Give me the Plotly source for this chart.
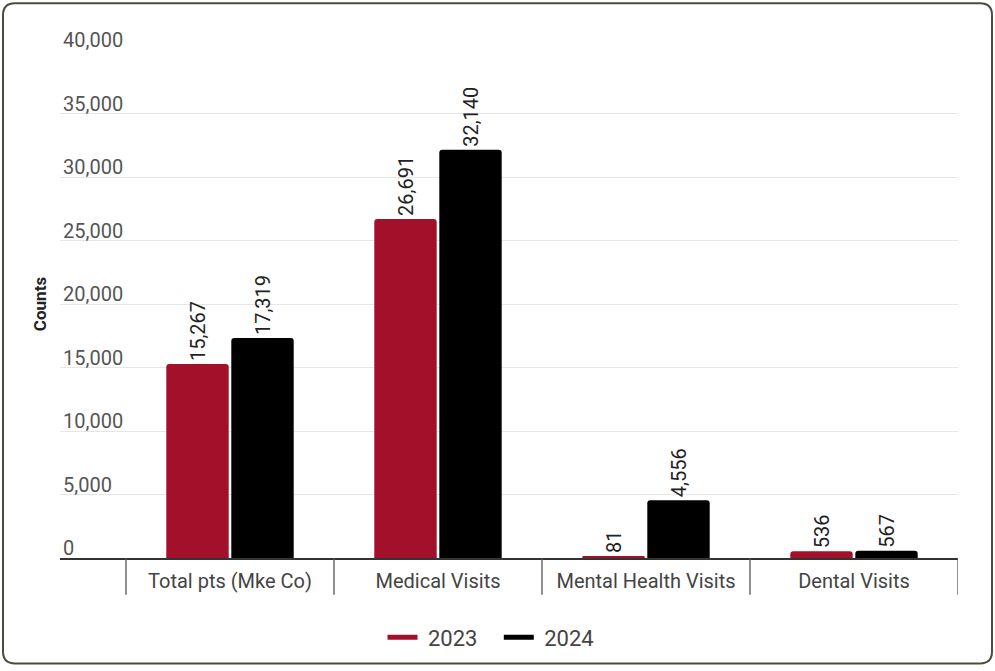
import plotly.graph_objects as go

# Data
categories = ["Total pts (Mke Co)", "Medical Visits", "Mental Health Visits", "Dental Visits"]
counts_2023 = [15267, 26691, 81, 536]
counts_2024 = [17319, 32140, 4556, 567]
y_ticks = [0, 5000, 10000, 15000, 20000, 25000, 30000, 35000, 40000]
series_names = ["2023", "2024"]

RED = "#A21029"
BLACK = "#000000"
FONT = "Roboto"
NBSP = "\u00a0"

# Layout geometry (pixels)
W, H = 995, 671
ML, MR, MT, MB = 60, 37, 50, 110
PW, PH = W - ML - MR, H - MT - MB


def px_x(px):
    return (px - ML) / PW


def px_y(py):
    return (H - MB - py) / PH


fig = go.Figure()

bar_style = dict(
    textposition="outside",
    textangle=-90,
    texttemplate="%{y:,.0f}",
    textfont=dict(family=FONT, size=20, color="#222222"),
    cliponaxis=False,
    showlegend=False,
    hoverinfo="skip",
)

fig.add_trace(go.Bar(x=categories, y=counts_2023, name=series_names[0],
                     marker=dict(color=RED, line=dict(width=0)), **bar_style))
fig.add_trace(go.Bar(x=categories, y=counts_2024, name=series_names[1],
                     marker=dict(color=BLACK, line=dict(width=0)), **bar_style))

# Line-style legend entries
for name, color in zip(series_names, (RED, BLACK)):
    fig.add_trace(go.Scatter(x=[None], y=[None], mode="lines",
                             name=NBSP + name + NBSP * 3,
                             line=dict(color=color, width=5), hoverinfo="skip"))

# Category divider lines below the axis
shapes = []
for i in range(len(categories) + 1):
    shapes.append(dict(type="line", xref="x", yref="paper",
                       x0=i - 0.5, x1=i - 0.5, y0=0, y1=px_y(598),
                       line=dict(color="#555555", width=1.3)))

# Rounded outer frame
x0, x1 = px_x(3), px_x(992)
y0, y1 = px_y(3), px_y(667)
rx = 12 / PW
ry = 12 / PH
path = (f"M {x0 + rx},{y0} L {x1 - rx},{y0} Q {x1},{y0} {x1},{y0 - ry} "
        f"L {x1},{y1 + ry} Q {x1},{y1} {x1 - rx},{y1} "
        f"L {x0 + rx},{y1} Q {x0},{y1} {x0},{y1 + ry} "
        f"L {x0},{y0 - ry} Q {x0},{y0} {x0 + rx},{y0} Z")
shapes.append(dict(type="path", xref="paper", yref="paper", path=path,
                   line=dict(color="#4d4b3e", width=2), layer="above"))

fig.update_layout(
    width=W, height=H,
    margin=dict(l=ML, r=MR, t=MT, b=MB),
    paper_bgcolor="white", plot_bgcolor="white",
    barmode="group", bargap=0.375, bargroupgap=0.04,
    barcornerradius=3,
    font=dict(family=FONT, color="#444444"),
    shapes=shapes,
    showlegend=True,
    legend=dict(orientation="h", x=px_x(499), xanchor="center",
                y=px_y(641), yanchor="middle",
                font=dict(family=FONT, size=22, color="#444444"),
                itemwidth=30, tracegroupgap=0, traceorder="normal"),
    xaxis=dict(
        type="category",
        range=[-0.5 - 66 / 208, 3.5],
        showline=True, linecolor="#333333", linewidth=2,
        showgrid=False, ticks="", zeroline=False,
        tickfont=dict(family=FONT, size=20, color="#444444"),
        ticklabelstandoff=4,
    ),
    yaxis=dict(
        range=[0, 40000],
        tickvals=y_ticks,
        tickformat=",",
        ticklabelposition="inside top",
        ticklabeloverflow="allow",
        ticklabelshift=4,
        tickfont=dict(family=FONT, size=20, color="#555555"),
        showgrid=True, gridcolor="#e6e6e6", gridwidth=1,
        zeroline=False, showline=False, ticks="",
        title=dict(text="<b>Counts</b>", standoff=12,
                   font=dict(family=FONT, size=17, color="#222222")),
    ),
)

fig.write_html("out.html")
